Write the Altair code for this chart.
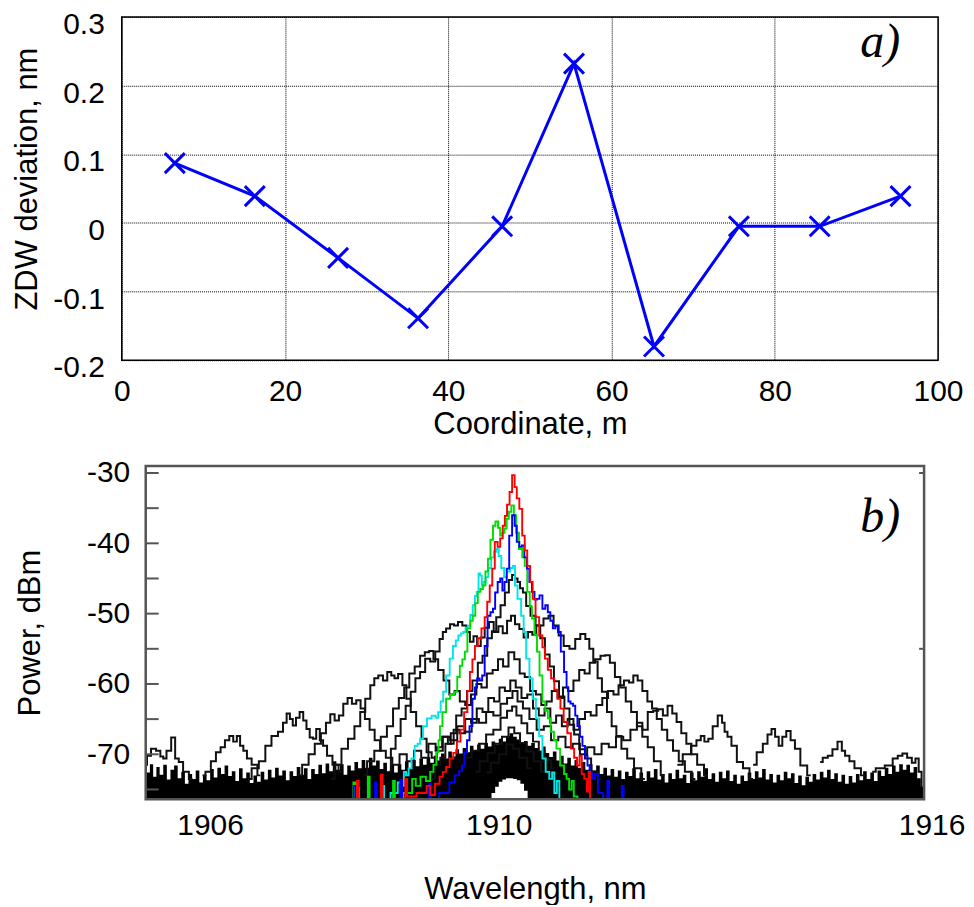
import altair as alt
import pandas as pd

FONT = "Liberation Sans"

# ---------------- panel a : ZDW deviation along the fibre ----------------
coordinate_m = [6.5, 16.3, 26.5, 36.3, 46.6, 55.4, 65.2, 75.6, 85.5, 95.4]
zdw_deviation_nm = [0.087, 0.039, -0.051, -0.139, -0.005, 0.232, -0.180, -0.005, -0.005, 0.039]
a_x_ticks = [0, 20, 40, 60, 80, 100]
a_y_ticks = [-0.2, -0.1, 0, 0.1, 0.2, 0.3]
a_y_labels = ["-0.2", "-0.1", "0", "0.1", "0.2", "0.3"]

# ---------------- panel b : spectra (wavelength nm, power dBm) ----------------
b_x_labels = [1906, 1910, 1916]
b_y_labels = [-30, -40, -50, -60, -70]
b_y_minor = [-30, -35, -40, -45, -50, -55, -60, -65, -70, -75]
b_y_right = [-30, -55]

floor_top = [
    (1905.03, -70.8), (1905.07, -72.6), (1905.11, -71.4), (1905.16, -73.2), (1905.2, -71.8), (1905.25, -72.9),
    (1905.3, -71.5), (1905.35, -73.6), (1905.4, -72.2), (1905.45, -71.6), (1905.5, -73.4), (1905.55, -72.5),
    (1905.6, -74.2), (1905.65, -72.8), (1905.7, -73.5), (1905.75, -72.3), (1905.8, -74.0), (1905.85, -72.9),
    (1905.9, -73.7), (1905.95, -72.1), (1906.0, -73.3), (1906.05, -71.9), (1906.1, -72.8), (1906.15, -71.6),
    (1906.2, -73.1), (1906.25, -72.4), (1906.3, -73.8), (1906.35, -72.0), (1906.4, -73.4), (1906.45, -72.6),
    (1906.5, -74.1), (1906.55, -73.0), (1906.6, -73.9), (1906.65, -72.5), (1906.7, -73.6), (1906.75, -72.2),
    (1906.8, -73.3), (1906.85, -71.9), (1906.9, -73.0), (1906.95, -72.3), (1907.0, -73.7), (1907.05, -72.4),
    (1907.1, -73.1), (1907.15, -71.8), (1907.2, -72.9), (1907.25, -72.0), (1907.3, -73.5), (1907.35, -72.1),
    (1907.4, -72.8), (1907.45, -71.5), (1907.5, -72.7), (1907.55, -71.3), (1907.6, -72.4), (1907.65, -71.0),
    (1907.7, -72.2), (1907.75, -71.4), (1907.8, -72.9), (1907.85, -71.6), (1907.9, -72.3), (1907.95, -71.1),
    (1908.0, -72.0), (1908.05, -70.8), (1908.1, -71.9), (1908.15, -70.5), (1908.2, -71.6), (1908.25, -70.9),
    (1908.3, -72.1), (1908.35, -71.2), (1908.4, -72.4), (1908.45, -71.5), (1908.5, -72.6), (1908.55, -71.4),
    (1908.6, -72.2), (1908.65, -71.0), (1908.7, -72.1), (1908.75, -70.8), (1908.8, -71.7), (1908.85, -70.6),
    (1908.9, -71.5), (1908.95, -70.4), (1909.0, -71.2), (1909.05, -70.2), (1909.1, -70.9), (1909.15, -69.9),
    (1909.2, -70.6), (1909.25, -69.6), (1909.3, -70.3), (1909.35, -69.3), (1909.4, -69.9), (1909.45, -69.1),
    (1909.5, -69.7), (1909.55, -68.8), (1909.6, -69.4), (1909.65, -68.6), (1909.7, -69.2), (1909.75, -68.4),
    (1909.8, -68.9), (1909.85, -68.2), (1909.9, -68.6), (1909.95, -67.8), (1910.0, -68.2), (1910.05, -67.4),
    (1910.1, -67.0), (1910.15, -67.5), (1910.2, -67.9), (1910.25, -68.4), (1910.3, -68.1), (1910.35, -68.8),
    (1910.4, -68.4), (1910.45, -69.1), (1910.5, -69.6), (1910.55, -68.9), (1910.6, -69.8), (1910.65, -70.4),
    (1910.7, -69.6), (1910.75, -70.9), (1910.8, -70.2), (1910.85, -71.3), (1910.9, -70.5), (1910.95, -71.6),
    (1911.0, -70.8), (1911.05, -71.9), (1911.1, -71.1), (1911.15, -72.2), (1911.2, -71.4), (1911.25, -72.5),
    (1911.3, -71.6), (1911.35, -72.8), (1911.4, -71.9), (1911.45, -73.0), (1911.5, -72.1), (1911.55, -73.2),
    (1911.6, -72.3), (1911.65, -73.5), (1911.7, -72.5), (1911.75, -73.1), (1911.8, -72.0), (1911.85, -73.4),
    (1911.9, -72.6), (1911.95, -73.8), (1912.0, -72.4), (1912.05, -73.3), (1912.1, -72.1), (1912.15, -73.6),
    (1912.2, -72.8), (1912.25, -74.0), (1912.3, -72.7), (1912.35, -73.5), (1912.4, -72.2), (1912.45, -73.4),
    (1912.5, -72.9), (1912.55, -74.1), (1912.6, -72.6), (1912.65, -73.7), (1912.7, -72.4), (1912.75, -73.2),
    (1912.8, -72.0), (1912.85, -73.5), (1912.9, -72.7), (1912.95, -73.9), (1913.0, -72.5), (1913.05, -73.4),
    (1913.1, -72.3), (1913.15, -73.8), (1913.2, -72.9), (1913.25, -74.2), (1913.3, -73.0), (1913.35, -73.8),
    (1913.4, -72.6), (1913.45, -73.5), (1913.5, -72.4), (1913.55, -73.3), (1913.6, -72.1), (1913.65, -73.6),
    (1913.7, -72.8), (1913.75, -74.0), (1913.8, -72.9), (1913.85, -73.7), (1913.9, -72.5), (1913.95, -73.4),
    (1914.0, -72.7), (1914.05, -74.1), (1914.1, -73.0), (1914.15, -74.4), (1914.2, -73.2), (1914.25, -73.9),
    (1914.3, -72.8), (1914.35, -73.6), (1914.4, -72.5), (1914.45, -73.3), (1914.5, -72.2), (1914.55, -73.5),
    (1914.6, -72.7), (1914.65, -73.9), (1914.7, -72.9), (1914.75, -74.2), (1914.8, -73.1), (1914.85, -74.0),
    (1914.9, -72.8), (1914.95, -73.7), (1915.0, -72.4), (1915.05, -73.5), (1915.1, -72.6), (1915.15, -73.8),
    (1915.2, -72.3), (1915.25, -73.1), (1915.3, -71.9), (1915.35, -72.8), (1915.4, -71.6), (1915.45, -72.5),
    (1915.5, -71.4), (1915.55, -72.2), (1915.6, -71.5), (1915.65, -72.6), (1915.7, -71.8), (1915.75, -73.4),
    (1915.8, -74.6), (1915.82, -75.5),
]
# white gap under the central peak: lower edge of the floor there
floor_notch = {1909.85: -75.5, 1909.9: -74.6, 1909.95: -73.9, 1910.0: -73.6, 1910.05: -73.4, 1910.1: -73.4,
               1910.15: -73.5, 1910.2: -73.7, 1910.25: -74.2, 1910.3: -75.2}

k_narrow = [
    (1909.0, -73.5), (1909.08, -71.5), (1909.15, -70.5), (1909.22, -68.5), (1909.3, -67.0), (1909.37, -64.5),
    (1909.45, -63.5), (1909.52, -61.0), (1909.6, -59.5), (1909.67, -57.0), (1909.73, -56.0), (1909.8, -53.5),
    (1909.86, -52.5), (1909.92, -50.5), (1909.98, -48.8), (1910.04, -47.0), (1910.09, -45.2), (1910.13, -44.5),
    (1910.17, -45.0), (1910.2, -45.5), (1910.24, -46.4), (1910.28, -47.0), (1910.33, -48.9), (1910.4, -50.3),
    (1910.47, -51.7), (1910.53, -53.5), (1910.6, -55.8), (1910.66, -57.5), (1910.72, -59.6), (1910.8, -61.8),
    (1910.87, -63.5), (1910.94, -65.8), (1911.0, -67.2), (1911.08, -69.3), (1911.16, -70.6), (1911.25, -72.4),
    (1911.35, -73.6),
]
k_sidebands_1 = [
    (1908.4, -72.5), (1908.46, -69.2), (1908.53, -67.4), (1908.6, -65.0), (1908.67, -63.1), (1908.74, -61.1),
    (1908.8, -59.2), (1908.87, -58.3), (1908.94, -56.4), (1909.01, -56.8), (1909.08, -55.4), (1909.13, -53.6),
    (1909.17, -52.6), (1909.22, -52.1), (1909.28, -51.5), (1909.33, -51.7), (1909.39, -51.2), (1909.45, -51.7),
    (1909.5, -52.6), (1909.55, -54.0), (1909.6, -53.2), (1909.65, -54.6), (1909.7, -53.4), (1909.76, -52.0),
    (1909.82, -51.2), (1909.89, -52.6), (1909.95, -51.8), (1910.01, -52.8), (1910.07, -51.0), (1910.12, -50.3),
    (1910.18, -51.5), (1910.24, -52.2), (1910.3, -53.4), (1910.36, -52.6), (1910.42, -53.0), (1910.47, -51.7),
    (1910.51, -51.7), (1910.58, -50.7), (1910.65, -50.3), (1910.72, -51.7), (1910.79, -53.1), (1910.86, -54.6),
    (1910.95, -55.0), (1911.02, -53.6), (1911.09, -52.9), (1911.16, -53.6), (1911.2, -55.0), (1911.27, -56.8),
    (1911.32, -59.2), (1911.39, -61.1), (1911.46, -64.0), (1911.52, -66.0), (1911.59, -67.4), (1911.66, -69.2),
    (1911.75, -70.6), (1911.85, -72.0), (1911.95, -73.5),
]
k_sidebands_2 = [
    (1908.05, -73.0), (1908.15, -71.0), (1908.25, -69.5), (1908.33, -67.5), (1908.42, -66.0), (1908.5, -63.5),
    (1908.58, -62.0), (1908.65, -60.5), (1908.72, -58.5), (1908.8, -57.5), (1908.87, -56.0), (1908.93, -55.5),
    (1908.99, -55.3), (1909.05, -56.5), (1909.12, -58.0), (1909.2, -59.5), (1909.28, -61.5), (1909.35, -61.0),
    (1909.42, -62.5), (1909.5, -63.0), (1909.58, -61.5), (1909.65, -60.0), (1909.72, -60.5), (1909.8, -58.5),
    (1909.88, -58.0), (1909.95, -56.5), (1910.02, -57.5), (1910.1, -55.5), (1910.18, -56.5), (1910.25, -58.5),
    (1910.32, -59.0), (1910.4, -61.0), (1910.48, -61.5), (1910.55, -63.0), (1910.62, -62.5), (1910.7, -61.0),
    (1910.78, -62.0), (1910.85, -60.5), (1910.92, -61.0), (1911.0, -59.5), (1911.08, -58.0), (1911.15, -58.5),
    (1911.22, -57.0), (1911.3, -56.5), (1911.37, -56.0), (1911.43, -55.9), (1911.5, -57.0), (1911.57, -59.0),
    (1911.65, -60.5), (1911.72, -62.5), (1911.8, -64.0), (1911.88, -66.0), (1911.95, -67.5), (1912.03, -69.0),
    (1912.12, -71.0), (1912.22, -73.0),
]
k_sidebands_3 = [
    (1907.6, -73.5), (1907.7, -71.5), (1907.79, -69.2), (1907.88, -67.8), (1907.97, -66.0), (1908.04, -64.0),
    (1908.11, -62.1), (1908.18, -60.2), (1908.22, -59.2), (1908.29, -58.8), (1908.35, -59.5), (1908.41, -58.3),
    (1908.46, -58.8), (1908.5, -59.2), (1908.56, -58.6), (1908.62, -60.2), (1908.67, -62.1), (1908.74, -64.0),
    (1908.82, -66.0), (1908.89, -67.8), (1908.96, -69.7), (1909.03, -70.5), (1909.1, -69.0), (1909.18, -67.5),
    (1909.26, -68.5), (1909.34, -66.5), (1909.42, -67.0), (1909.5, -65.0), (1909.58, -65.5), (1909.66, -63.5),
    (1909.74, -64.0), (1909.82, -62.0), (1909.9, -62.5), (1909.97, -60.5), (1910.05, -61.0), (1910.12, -59.5),
    (1910.2, -60.5), (1910.28, -62.0), (1910.36, -61.5), (1910.44, -63.5), (1910.52, -64.5), (1910.6, -63.5),
    (1910.68, -65.5), (1910.76, -64.5), (1910.84, -66.0), (1910.92, -65.0), (1911.0, -66.5), (1911.08, -65.0),
    (1911.16, -64.0), (1911.24, -64.5), (1911.32, -63.0), (1911.4, -62.0), (1911.48, -61.0), (1911.55, -61.5),
    (1911.62, -60.2), (1911.7, -59.5), (1911.76, -59.8), (1911.82, -58.8), (1911.88, -59.5), (1911.95, -61.0),
    (1912.02, -62.5), (1912.08, -63.5), (1912.15, -65.0), (1912.22, -66.5), (1912.3, -68.0), (1912.38, -69.5),
    (1912.46, -71.0), (1912.55, -72.5), (1912.65, -73.5),
]
k_sidebands_4 = [
    (1907.15, -73.0), (1907.25, -71.5), (1907.33, -70.0), (1907.42, -68.5), (1907.5, -67.0), (1907.56, -65.5),
    (1907.62, -64.3), (1907.68, -65.2), (1907.74, -64.5), (1907.8, -62.8), (1907.86, -62.0), (1907.92, -62.8),
    (1907.98, -62.3), (1908.04, -63.5), (1908.1, -65.0), (1908.17, -66.5), (1908.24, -68.0), (1908.32, -69.5),
    (1908.4, -70.5), (1908.5, -71.5), (1908.6, -70.0), (1908.7, -71.0), (1908.8, -69.5), (1908.9, -70.5),
    (1909.0, -68.5), (1909.1, -69.5), (1909.2, -67.5), (1909.3, -68.0), (1909.4, -66.0), (1909.5, -66.8),
    (1909.6, -65.0), (1909.7, -65.5), (1909.8, -64.0), (1909.9, -64.5), (1910.0, -62.8), (1910.08, -62.0),
    (1910.15, -61.0), (1910.22, -62.5), (1910.3, -63.5), (1910.4, -65.0), (1910.5, -66.5), (1910.6, -66.0),
    (1910.7, -68.0), (1910.8, -67.5), (1910.9, -69.0), (1911.0, -68.5), (1911.1, -70.0), (1911.2, -69.0),
    (1911.3, -70.0), (1911.4, -68.5), (1911.5, -69.0), (1911.6, -67.5), (1911.7, -68.0), (1911.8, -66.5),
    (1911.88, -65.5), (1911.95, -66.5), (1912.03, -64.0), (1912.1, -63.8), (1912.17, -63.6), (1912.23, -64.5),
    (1912.3, -63.1), (1912.36, -64.2), (1912.42, -65.4), (1912.49, -67.0), (1912.56, -68.5), (1912.63, -70.0),
    (1912.72, -71.5), (1912.82, -73.0),
]
k5_left = [
    (1906.45, -73.5), (1906.55, -72.0), (1906.65, -71.0), (1906.73, -68.8), (1906.82, -67.4), (1906.91, -66.8),
    (1906.96, -65.5), (1907.01, -64.2), (1907.05, -65.0), (1907.09, -65.9), (1907.14, -64.8), (1907.19, -64.0),
    (1907.24, -65.2), (1907.28, -66.4), (1907.33, -67.6), (1907.37, -67.8), (1907.42, -66.4), (1907.47, -68.0),
    (1907.51, -68.8), (1907.58, -70.2), (1907.66, -71.5), (1907.75, -72.5),
]
k5_centre = [
    (1909.4, -72.0), (1909.5, -70.5), (1909.6, -69.5), (1909.7, -68.5), (1909.8, -67.2), (1909.9, -66.5),
    (1910.0, -64.8), (1910.08, -63.8), (1910.14, -63.2), (1910.2, -64.5), (1910.28, -65.6), (1910.36, -67.0),
    (1910.44, -68.2), (1910.52, -69.6), (1910.6, -70.8), (1910.7, -72.0),
]
k5_right = [
    (1912.4, -71.5), (1912.55, -70.0), (1912.63, -68.8), (1912.7, -68.0), (1912.75, -67.4), (1912.8, -68.2),
    (1912.86, -67.8), (1912.92, -66.0), (1913.0, -64.5), (1913.04, -65.5), (1913.07, -66.8), (1913.12, -67.5),
    (1913.18, -68.8), (1913.27, -71.1), (1913.35, -72.0), (1913.45, -73.5),
]
k6_left = [
    (1905.82, -73.0), (1905.9, -72.5), (1905.97, -71.0), (1906.04, -69.7), (1906.1, -69.0), (1906.16, -68.0),
    (1906.22, -67.4), (1906.27, -68.2), (1906.32, -67.4), (1906.36, -68.8), (1906.41, -69.5), (1906.46, -70.6),
    (1906.54, -71.5), (1906.62, -73.0),
]
k6_centre = [
    (1909.6, -72.5), (1909.72, -71.0), (1909.82, -69.8), (1909.92, -68.5), (1910.02, -67.5), (1910.1, -66.2),
    (1910.18, -67.0), (1910.26, -68.4), (1910.36, -69.6), (1910.46, -71.0), (1910.56, -72.5),
]
k6_right = [
    (1913.45, -71.5), (1913.55, -69.7), (1913.62, -68.5), (1913.68, -67.2), (1913.73, -66.4), (1913.78, -67.5),
    (1913.83, -68.8), (1913.88, -67.5), (1913.94, -66.7), (1914.0, -68.0), (1914.06, -69.2), (1914.15, -71.6),
    (1914.25, -73.0),
]
k7_left = [
    (1905.03, -71.5), (1905.07, -70.2), (1905.14, -69.2), (1905.21, -69.5), (1905.26, -70.3), (1905.29, -70.6),
    (1905.35, -69.5), (1905.42, -67.6), (1905.46, -70.6), (1905.52, -71.1), (1905.58, -72.5), (1905.68, -73.5),
]
k7_centre = [
    (1909.75, -72.6), (1909.88, -71.2), (1909.98, -70.0), (1910.08, -68.6), (1910.16, -69.2), (1910.26, -70.5),
    (1910.38, -72.0),
]
k7_right = [
    (1914.38, -71.1), (1914.45, -70.5), (1914.52, -70.2), (1914.58, -69.3), (1914.66, -68.2), (1914.7, -69.5),
    (1914.75, -70.2), (1914.82, -71.0), (1914.89, -72.0), (1915.0, -73.0),
]
k8_right = [
    (1915.1, -72.5), (1915.2, -72.0), (1915.35, -71.6), (1915.42, -70.6), (1915.49, -70.2), (1915.55, -69.9),
    (1915.62, -70.5), (1915.68, -71.2), (1915.72, -70.6), (1915.77, -72.5), (1915.8, -74.5),
]

cyan_trace = [
    (1907.95, -76.4), (1907.98, -74.8), (1908.0, -76.4), (1908.3, -76.4), (1908.32, -74.5), (1908.35, -76.4),
    (1908.5, -75.5), (1908.55, -74.0), (1908.6, -74.5), (1908.62, -72.5), (1908.66, -73.0), (1908.69, -72.0),
    (1908.74, -70.6), (1908.78, -68.8), (1908.82, -68.5), (1908.85, -67.8), (1908.9, -66.0), (1908.96, -64.9),
    (1909.03, -64.5), (1909.07, -64.8), (1909.1, -64.0), (1909.14, -62.5), (1909.17, -61.1), (1909.22, -58.8),
    (1909.27, -56.4), (1909.31, -54.6), (1909.35, -53.8), (1909.38, -53.1), (1909.42, -52.8), (1909.45, -52.6),
    (1909.48, -52.0), (1909.51, -51.7), (1909.55, -50.2), (1909.58, -48.8), (1909.61, -47.5), (1909.63, -46.9),
    (1909.66, -44.3), (1909.68, -44.6), (1909.7, -46.0), (1909.73, -45.5), (1909.76, -44.8), (1909.8, -43.5),
    (1909.84, -42.0), (1909.88, -41.2), (1909.91, -40.8), (1909.94, -41.8), (1909.98, -43.5), (1910.02, -44.8),
    (1910.06, -44.0), (1910.1, -43.5), (1910.14, -43.2), (1910.16, -46.0), (1910.21, -47.9), (1910.26, -50.3),
    (1910.28, -52.6), (1910.33, -56.4), (1910.37, -59.2), (1910.42, -62.1), (1910.46, -64.9), (1910.51, -67.4),
    (1910.55, -70.6), (1910.6, -72.5), (1910.65, -73.5), (1910.68, -72.6), (1910.71, -75.5), (1910.75, -73.8),
    (1910.78, -76.4),
]
green_trace = [
    (1907.9, -76.4), (1907.92, -74.0), (1907.95, -76.4), (1908.1, -76.4), (1908.12, -73.2), (1908.15, -76.4),
    (1908.45, -76.4), (1908.47, -73.8), (1908.5, -76.4), (1908.7, -75.5), (1908.75, -73.5), (1908.8, -74.5),
    (1908.88, -73.2), (1908.95, -73.8), (1909.0, -72.5), (1909.04, -71.5), (1909.08, -69.7), (1909.1, -68.0),
    (1909.12, -66.0), (1909.17, -64.0), (1909.22, -62.1), (1909.28, -61.5), (1909.33, -61.1), (1909.37, -59.0),
    (1909.4, -57.4), (1909.44, -56.5), (1909.47, -55.4), (1909.51, -52.1), (1909.55, -51.0), (1909.58, -50.3),
    (1909.62, -48.5), (1909.65, -46.9), (1909.69, -46.5), (1909.72, -46.0), (1909.76, -44.0), (1909.79, -42.2),
    (1909.83, -39.5), (1909.86, -37.5), (1909.9, -36.9), (1909.93, -37.8), (1909.96, -38.9), (1909.99, -38.5),
    (1910.02, -37.9), (1910.05, -36.5), (1910.08, -35.5), (1910.12, -34.6), (1910.15, -36.0), (1910.18, -38.5),
    (1910.23, -40.8), (1910.27, -42.0), (1910.3, -43.2), (1910.34, -46.9), (1910.37, -49.0), (1910.4, -50.7),
    (1910.44, -53.0), (1910.47, -55.4), (1910.51, -58.8), (1910.55, -62.5), (1910.59, -63.8), (1910.62, -64.9),
    (1910.67, -66.8), (1910.71, -68.0), (1910.74, -69.2), (1910.81, -71.6), (1910.85, -72.8), (1910.88, -73.5),
    (1910.92, -75.0), (1910.95, -73.8), (1910.98, -76.0), (1911.05, -76.4),
]
blue_trace = [
    (1907.9, -76.4), (1907.93, -74.5), (1907.96, -76.4), (1908.2, -76.4), (1908.22, -74.0), (1908.25, -76.4),
    (1908.55, -76.4), (1908.57, -73.6), (1908.6, -76.4), (1908.95, -76.4), (1908.97, -74.2), (1909.0, -76.4),
    (1909.2, -75.5), (1909.28, -74.0), (1909.35, -73.0), (1909.4, -72.4), (1909.43, -71.6), (1909.47, -69.7),
    (1909.5, -68.0), (1909.54, -66.0), (1909.58, -62.1), (1909.61, -60.5), (1909.64, -59.2), (1909.68, -59.5),
    (1909.71, -58.8), (1909.75, -54.6), (1909.79, -50.3), (1909.83, -49.8), (1909.86, -49.3), (1909.89, -47.0),
    (1909.93, -45.5), (1909.96, -45.0), (1909.99, -46.7), (1910.02, -45.5), (1910.05, -43.6), (1910.09, -38.9),
    (1910.13, -36.0), (1910.16, -37.5), (1910.19, -39.8), (1910.23, -40.5), (1910.26, -40.3), (1910.3, -42.0),
    (1910.33, -43.6), (1910.37, -45.5), (1910.4, -46.9), (1910.44, -48.0), (1910.47, -47.9), (1910.51, -47.4),
    (1910.55, -49.3), (1910.59, -48.8), (1910.62, -49.8), (1910.66, -51.0), (1910.69, -52.1), (1910.73, -51.8),
    (1910.76, -52.6), (1910.81, -55.4), (1910.85, -58.3), (1910.88, -60.5), (1910.9, -62.5), (1910.94, -62.8),
    (1910.97, -63.1), (1911.0, -64.5), (1911.03, -66.0), (1911.07, -67.5), (1911.1, -68.8), (1911.14, -70.2),
    (1911.17, -71.6), (1911.2, -72.6), (1911.24, -73.5), (1911.28, -72.8), (1911.32, -75.5), (1911.42, -76.4),
    (1911.44, -73.8), (1911.47, -76.4), (1911.62, -76.4), (1911.64, -74.5), (1911.67, -76.4),
]
red_trace = [
    (1907.95, -76.4), (1907.97, -73.8), (1908.0, -76.4), (1908.28, -76.4), (1908.3, -72.9), (1908.33, -76.4),
    (1908.62, -76.4), (1908.64, -73.5), (1908.67, -76.0), (1908.9, -75.5), (1908.95, -74.5), (1909.0, -75.8),
    (1909.08, -74.2), (1909.13, -73.2), (1909.17, -72.5), (1909.22, -71.8), (1909.27, -70.6), (1909.32, -69.8),
    (1909.37, -68.2), (1909.42, -66.5), (1909.47, -64.0), (1909.51, -61.0), (1909.54, -58.3), (1909.58, -56.5),
    (1909.61, -54.6), (1909.66, -53.5), (1909.71, -52.1), (1909.75, -50.5), (1909.78, -48.3), (1909.82, -46.0),
    (1909.85, -43.6), (1909.89, -39.8), (1909.93, -40.5), (1909.96, -39.3), (1910.0, -37.5), (1910.02, -36.1),
    (1910.06, -34.5), (1910.09, -32.7), (1910.13, -30.3), (1910.16, -32.0), (1910.19, -33.6), (1910.23, -35.1),
    (1910.27, -38.9), (1910.3, -41.0), (1910.34, -43.2), (1910.38, -45.5), (1910.41, -47.9), (1910.46, -50.5),
    (1910.51, -53.1), (1910.55, -54.8), (1910.58, -56.4), (1910.63, -58.0), (1910.67, -59.2), (1910.72, -60.8),
    (1910.76, -62.1), (1910.8, -63.5), (1910.85, -65.4), (1910.9, -67.0), (1910.95, -69.2), (1910.99, -70.5),
    (1911.03, -71.6), (1911.06, -70.2), (1911.09, -72.8), (1911.13, -73.5), (1911.16, -75.3), (1911.18, -72.5),
    (1911.2, -76.4),
]

black_segments = [
    ("k7_left", k7_left), ("k6_left", k6_left), ("k5_left", k5_left), ("k4", k_sidebands_4),
    ("k3", k_sidebands_3), ("k2", k_sidebands_2), ("k1", k_sidebands_1), ("k0", k_narrow),
    ("k5_centre", k5_centre), ("k6_centre", k6_centre), ("k7_centre", k7_centre),
    ("k5_right", k5_right), ("k6_right", k6_right), ("k7_right", k7_right), ("k8_right", k8_right),
]
coloured = [("#00e5e5", cyan_trace), ("#00dd00", green_trace), ("#0000ff", blue_trace), ("#ff0000", red_trace)]

# panel b axis range: framed region and the empty strip left of the frame
Y_MIN_B, Y_MAX_B = -76.4, -29.0
X_VIEW_MIN_B, X_MAX_B = 1904.70, 1915.82

# ---------------- tables ----------------
df_a = pd.DataFrame({"x": coordinate_m, "y": zdw_deviation_nm})
df_a_labels = pd.DataFrame({"y": a_y_ticks, "t": a_y_labels})
df_floor = pd.DataFrame({
    "x": [p[0] for p in floor_top],
    "y": [p[1] for p in floor_top],
    "y2": [floor_notch.get(p[0], Y_MIN_B) for p in floor_top],
})
df_black = pd.DataFrame(
    [{"x": x, "y": y, "trace": name} for name, pts in black_segments for (x, y) in pts]
)

# ---------------- panel a chart ----------------
WA, HA = 818, 344
xa = alt.X("x:Q", scale=alt.Scale(domain=[0, 100], nice=False, zero=False),
           axis=alt.Axis(values=a_x_ticks, title="Coordinate, m", grid=True, gridColor="black",
                         gridDash=[1, 1], gridOpacity=1, gridWidth=1, ticks=False, tickSize=0,
                         domain=False, labelPadding=16, titlePadding=3, labelFlush=False,
                         labelExpr="'' + datum.value"))
ya = alt.Y("y:Q", scale=alt.Scale(domain=[-0.2, 0.3], nice=False, zero=False),
           axis=alt.Axis(values=a_y_ticks, title="ZDW deviation, nm", grid=True, gridColor="black",
                         gridDash=[1, 1], gridOpacity=1, gridWidth=1, ticks=False, tickSize=0,
                         domain=False, labels=False, titlePadding=78, titleY=162))

line_a = alt.Chart(df_a).mark_line(color="#0000ff", strokeWidth=3).encode(x=xa, y=ya)
pts_a = alt.Chart(df_a).mark_point(shape="M-1,-1L1,1M-1,1L1,-1", size=400, filled=False,
                                   strokeWidth=3, color="#0000ff", opacity=1).encode(x=xa, y=ya)
ylab_a = alt.Chart(df_a_labels).mark_text(font=FONT, fontSize=30, align="right", baseline="middle",
                                          dy=8, color="black").encode(
    y=ya, x=alt.value(-17), text="t:N")
tag_a = alt.Chart(pd.DataFrame({"t": ["a)"]})).mark_text(
    font="Liberation Serif", fontStyle="italic", fontSize=48, align="left",
    baseline="alphabetic", color="black").encode(x=alt.value(740), y=alt.value(40), text="t:N")

chart_a = alt.layer(line_a, pts_a, ylab_a, tag_a).properties(
    width=WA, height=HA, view=alt.ViewBackground(stroke="black", strokeWidth=1.5))

# ---------------- panel b chart ----------------
WB, HB = 804, 334
FRAME_LEFT = 24  # the framed box starts this far right of the view edge
xb = alt.X("x:Q", scale=alt.Scale(domain=[X_VIEW_MIN_B, X_MAX_B], nice=False, zero=False),
           axis=alt.Axis(labels=False, ticks=False, domain=False, grid=False,
                         title="Wavelength, nm", titlePadding=75, titleX=414))
yb = alt.Y("y:Q", scale=alt.Scale(domain=[Y_MIN_B, Y_MAX_B], nice=False, zero=False),
           axis=alt.Axis(values=b_y_labels, ticks=False, tickSize=0, domain=False, grid=False,
                         title="Power, dBm", labelPadding=16, titlePadding=40, offset=-FRAME_LEFT,
                         labelFlush=False, labelExpr="'' + datum.value"))

floor = alt.Chart(df_floor).mark_area(color="black", clip=True, interpolate="step").encode(
    x=xb, y=yb, y2="y2:Q")
blacks = alt.Chart(df_black).mark_line(color="#111111", strokeWidth=2, clip=True, interpolate="step").encode(
    x=xb, y=yb, detail="trace:N")
col_layers = []
for colour, pts in coloured:
    d = pd.DataFrame({"x": [p[0] for p in pts], "y": [p[1] for p in pts]})
    col_layers.append(alt.Chart(d).mark_line(color=colour, strokeWidth=1.9, clip=True,
                                             interpolate="step").encode(x=xb, y=yb))

ticks_left = alt.Chart(pd.DataFrame({"y": b_y_minor})).mark_rule(color="#555555", strokeWidth=2).encode(
    y=yb, x=alt.value(FRAME_LEFT), x2=alt.value(FRAME_LEFT + 13))
ticks_right = alt.Chart(pd.DataFrame({"y": b_y_right})).mark_rule(color="#555555", strokeWidth=2).encode(
    y=yb, x=alt.value(WB - 5), x2=alt.value(WB))
frame_b = alt.Chart(pd.DataFrame({"t": ["frame"]})).mark_rect(
    fillOpacity=0, stroke="#555555", strokeWidth=2.5).encode(
    x=alt.value(FRAME_LEFT), x2=alt.value(WB), y=alt.value(0), y2=alt.value(HB))
xlabels = alt.Chart(pd.DataFrame({"x": b_x_labels, "t": [str(v) for v in b_x_labels]})).mark_text(
    font=FONT, fontSize=30, baseline="middle", align="center", dx=-5, color="black").encode(
    x=xb, y=alt.value(HB + 27), text="t:N")
tag_b = alt.Chart(pd.DataFrame({"t": ["b)"]})).mark_text(
    font="Liberation Serif", fontStyle="italic", fontSize=48, align="left",
    baseline="alphabetic", color="black").encode(x=alt.value(740), y=alt.value(66), text="t:N")

chart_b = alt.layer(floor, blacks, *col_layers, ticks_left, ticks_right, frame_b, xlabels, tag_b).properties(
    width=WB, height=HB, view=alt.ViewBackground(strokeWidth=0, stroke="transparent"))

chart = alt.vconcat(chart_a, chart_b, spacing=18).properties(
    padding={"left": 3, "top": 0, "right": 0, "bottom": 0}, background="white"
).configure_axis(
    labelFont=FONT, titleFont=FONT, labelFontSize=30, titleFontSize=31,
    titleFontWeight="normal", labelColor="black", titleColor="black"
)

chart.save("out.html", embed_options={"renderer": "svg", "actions": False})
